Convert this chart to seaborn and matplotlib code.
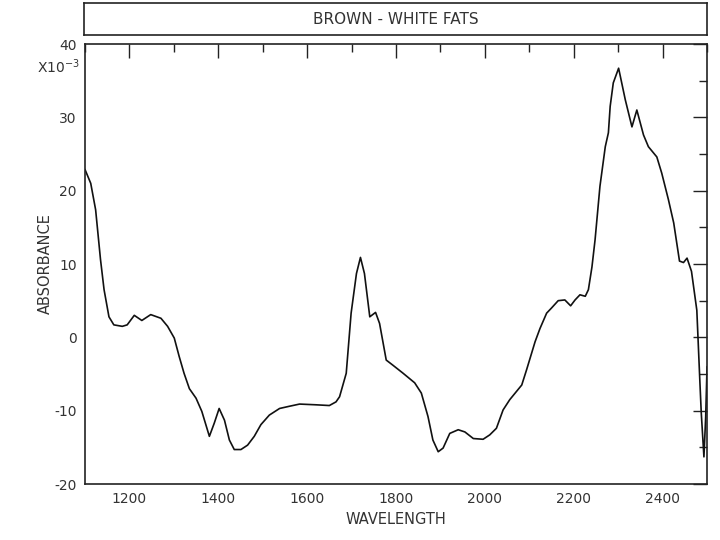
import matplotlib
matplotlib.use("Agg")
import matplotlib.pyplot as plt
import seaborn as sns
import pandas as pd
from matplotlib.ticker import MultipleLocator

wavelength = [1100, 1113, 1124, 1135, 1143, 1154, 1165, 1184, 1195, 1211, 1228, 1248,
              1271, 1286, 1301, 1312, 1323, 1335, 1350, 1363, 1372, 1380, 1391, 1402,
              1414, 1425, 1436, 1451, 1466, 1481, 1496, 1515, 1538, 1560, 1583, 1620,
              1650, 1665, 1673, 1688, 1699, 1711, 1720, 1729,
              1741, 1754, 1763, 1778, 1793, 1816, 1842, 1857, 1872, 1883, 1895, 1906,
              1921, 1940, 1955, 1974, 1996, 2011, 2026, 2041, 2056, 2083, 2094, 2105,
              2113, 2124, 2139, 2150, 2165, 2180, 2193, 2203, 2214, 2226, 2233, 2241,
              2248, 2259, 2271, 2278, 2282, 2289, 2301, 2316, 2331,
              2342, 2357, 2368, 2387, 2398, 2413, 2425, 2438, 2447, 2455, 2465, 2477,
              2484, 2487, 2493, 2497, 2500]
absorbance = [22.9, 21.0, 17.4, 10.6, 6.5, 2.8, 1.7, 1.5, 1.7, 3.0, 2.3, 3.1,
              2.6, 1.5, -0.1, -2.6, -4.9, -7.0, -8.3, -10.1, -11.9, -13.5, -11.7, -9.7,
              -11.3, -14.0, -15.3, -15.3, -14.7, -13.5, -11.9, -10.6, -9.7, -9.4, -9.1, -9.2,
              -9.3, -8.8, -8.1, -4.9, 3.3, 8.7, 10.9, 8.7,
              2.8, 3.4, 1.9, -3.1, -3.8, -4.9, -6.2, -7.6, -10.8, -14.0, -15.6, -15.1,
              -13.1, -12.6, -12.9, -13.8, -13.9, -13.3, -12.4, -9.9, -8.5, -6.5, -4.4, -2.2,
              -0.6, 1.2, 3.3, 4.0, 5.0, 5.1, 4.3, 5.1, 5.8, 5.6, 6.5, 9.6,
              13.3, 20.6, 26.0, 27.9, 31.5, 34.7, 36.7, 32.4, 28.7,
              31.0, 27.6, 26.0, 24.6, 22.4, 18.8, 15.6, 10.4, 10.2, 10.8, 9.0, 3.7,
              -6.2, -10.3, -16.3, -10.8, -4.0]

x_ticks = [1200, 1400, 1600, 1800, 2000, 2200, 2400]
y_ticks = [-20, -10, 0, 10, 20, 30, 40]
title_text = "BROWN - WHITE FATS"
x_label = "WAVELENGTH"
y_label = "ABSORBANCE"

sns.set_style("white")
plt.rcParams['font.family'] = ['DejaVu Sans']
plt.rcParams['axes.unicode_minus'] = False
txt_color = "#333333"

df = pd.DataFrame({"wavelength": wavelength, "absorbance": absorbance})

fig = plt.figure(figsize=(7.2, 5.4), dpi=100)
ax = fig.add_axes([0.118, 0.1037, 0.864, 0.8148])
sns.lineplot(data=df, x="wavelength", y="absorbance", ax=ax, color="#111111",
             linewidth=1.2, sort=False)

ax.set_xlim(1100, 2500)
ax.set_ylim(-20, 40)
ax.set_xticks(x_ticks)
ax.set_yticks(y_ticks)
ax.xaxis.set_minor_locator(MultipleLocator(100))
ax.yaxis.set_minor_locator(MultipleLocator(5))
ax.tick_params(which="both", direction="in", top=True, right=True,
               color="#222222", width=1.0, labelsize=10, labelcolor=txt_color)
ax.tick_params(which="major", length=10, pad=6)
ax.tick_params(which="minor", length=6)
for s in ax.spines.values():
    s.set_color("#222222")
    s.set_linewidth(1.2)
ax.set_xlabel(x_label, fontsize=10.5, color=txt_color, labelpad=4)
ax.set_ylabel(y_label, fontsize=10.5, color=txt_color, labelpad=1)

fig.text(0.052, 0.876, "X10$^{-3}$", fontsize=10, color=txt_color,
         ha="left", va="center")

tax = fig.add_axes([0.117, 0.935, 0.865, 0.059])
tax.set_xticks([])
tax.set_yticks([])
for s in tax.spines.values():
    s.set_color("#222222")
    s.set_linewidth(1.2)
tax.text(0.5, 0.5, title_text, ha="center", va="center", fontsize=11,
         color=txt_color, transform=tax.transAxes)

fig.savefig("out.png", dpi=100)
